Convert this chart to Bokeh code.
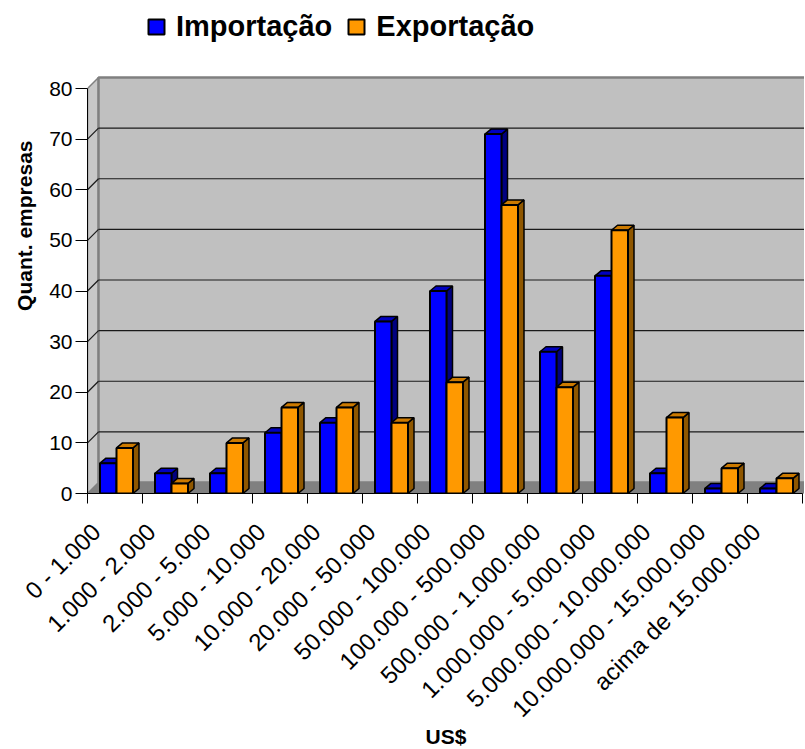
import math
from bokeh.plotting import figure
from bokeh.models import (Range1d, FixedTicker, CustomJSTickFormatter, Legend,
                          LegendItem, Title)
from bokeh.embed import file_html
from bokeh.resources import INLINE

# ---------------- data ----------------
categories = ["0 - 1.000", "1.000 - 2.000", "2.000 - 5.000", "5.000 - 10.000",
              "10.000 - 20.000", "20.000 - 50.000", "50.000 - 100.000",
              "100.000 - 500.000", "500.000 - 1.000.000", "1.000.000 - 5.000.000",
              "5.000.000 - 10.000.000", "10.000.000 - 15.000.000",
              "acima de 15.000.000"]
importacao = [6, 4, 4, 12, 14, 34, 40, 71, 28, 43, 4, 1, 1]
exportacao = [9, 2, 10, 17, 17, 14, 22, 57, 21, 52, 15, 5, 3]
y_ticks = [0, 10, 20, 30, 40, 50, 60, 70, 80]
series_names = ["Importação", "Exportação"]
y_title = "Quant. empresas"
x_title = "US$"

# ---------------- layout / style ----------------
FONT = "Liberation Sans"
TOP_PAD = 5                        # figure pixels above the frame
FRAME_W, FRAME_H = 717, 488        # frame reaches up to hold the legend
CAT_PX = 55.0                      # pixels per category
Y_PX = 405.0 / 80.0                # pixels per unit on y
X_END = FRAME_W / CAT_PX
Y_END = FRAME_H / Y_PX
WALL_PX = 11
DXW, DYW = WALL_PX / CAT_PX, WALL_PX / Y_PX
BAR_PX_DX, BAR_PX_DY = 6, 5
DXB, DYB = BAR_PX_DX / CAT_PX, BAR_PX_DY / Y_PX
BAR_OFF = 12.5 / 55.0
BAR_W = 0.30
LABEL_SHIFT = 0.16
Y_TITLE_OFFSET = 135
LEGEND_LOC = (59, 450)

front_cols = ["#0000FF", "#FF9900"]
top_cols = ["#0000C0", "#CC7A00"]
side_cols = ["#000080", "#8F5700"]

n = len(categories)
p = figure(frame_width=FRAME_W, frame_height=FRAME_H, output_backend="svg",
           toolbar_location=None, x_range=Range1d(0, X_END), y_range=Range1d(0, Y_END),
           min_border_left=87, min_border_right=0, min_border_top=TOP_PAD,
           min_border_bottom=255)
p.outline_line_color = None
p.xgrid.visible = False
p.ygrid.visible = False
p.background_fill_color = "white"

# walls
x_far = X_END + 1
p.patch([0, DXW, DXW, 0], [0, DYW, y_ticks[-1] + DYW, y_ticks[-1]],
        fill_color="#C8C8C8", line_color="#808080", line_width=1.5)
p.quad(left=DXW, right=x_far, bottom=DYW, top=y_ticks[-1] + DYW,
       fill_color="#C0C0C0", line_color="#808080", line_width=2.5)
p.patch([0, x_far, x_far + DXW, DXW], [0, 0, DYW, DYW],
        fill_color="#808080", line_color="#808080", line_width=1)
grid_vals = y_ticks[1:-1]
p.segment(x0=[DXW] * len(grid_vals), y0=[v + DYW for v in grid_vals],
          x1=[x_far] * len(grid_vals), y1=[v + DYW for v in grid_vals],
          line_color="#1a1a1a", line_width=1.2)
p.segment(x0=[0] * len(grid_vals), y0=grid_vals,
          x1=[DXW] * len(grid_vals), y1=[v + DYW for v in grid_vals],
          line_color="#1a1a1a", line_width=1.2)

# bars
fronts = []
for k, vals in enumerate([importacao, exportacao]):
    x0 = [i + BAR_OFF + k * BAR_W for i in range(n)]
    x1 = [a + BAR_W for a in x0]
    side_xs = [[b, b + DXB, b + DXB, b] for b in x1]
    side_ys = [[0, DYB, v + DYB, v] for v in vals]
    p.patches(side_xs, side_ys, fill_color=side_cols[k], line_color="black", line_width=1.5)
    top_xs = [[a, b, b + DXB, a + DXB] for a, b in zip(x0, x1)]
    top_ys = [[v, v, v + DYB, v + DYB] for v in vals]
    p.patches(top_xs, top_ys, fill_color=top_cols[k], line_color="black", line_width=1.5)
    r = p.quad(left=x0, right=x1, bottom=0, top=vals, fill_color=front_cols[k],
               line_color="black", line_width=2)
    fronts.append(r)

# axes
xa = p.xaxis[0]
xa.ticker = FixedTicker(ticks=[i + LABEL_SHIFT for i in range(n)],
                        minor_ticks=list(range(n + 1)))
xa.formatter = CustomJSTickFormatter(args=dict(labels=categories, shift=LABEL_SHIFT),
    code="const i = Math.round(tick - shift); return (i >= 0 && i < labels.length) ? labels[i] : '';")
xa.bounds = (0, n)
xa.major_tick_out = 0
xa.major_tick_in = 0
xa.minor_tick_out = 10
xa.minor_tick_in = 0
xa.minor_tick_line_color = "black"
xa.axis_line_color = "black"
xa.major_label_orientation = math.pi / 4
xa.major_label_standoff = 24
xa.major_label_text_font = FONT
xa.major_label_text_font_size = "24px"
xa.major_label_text_color = "black"
xa.axis_label = x_title
xa.axis_label_text_font = FONT
xa.axis_label_text_font_size = "21px"
xa.axis_label_text_font_style = "bold"
xa.axis_label_text_color = "black"
xa.axis_label_standoff = -10

ya = p.yaxis[0]
ya.ticker = FixedTicker(ticks=y_ticks)
ya.bounds = (y_ticks[0], y_ticks[-1])
ya.major_tick_out = 12
ya.major_tick_in = 0
ya.minor_tick_out = 0
ya.minor_tick_in = 0
ya.major_tick_line_color = "black"
ya.axis_line_color = "black"
ya.major_label_standoff = 3
ya.major_label_text_font = FONT
ya.major_label_text_font_size = "21px"
ya.major_label_text_color = "black"

p.add_layout(Title(text=y_title, align="right", offset=Y_TITLE_OFFSET,
                   text_font=FONT, text_font_size="21px", text_font_style="bold",
                   text_color="black", standoff=21), "left")

legend = Legend(items=[LegendItem(label=series_names[0], renderers=[fronts[0]]),
                       LegendItem(label=series_names[1], renderers=[fronts[1]])],
                orientation="horizontal", location=LEGEND_LOC,
                glyph_width=20, glyph_height=19, label_standoff=10, spacing=14,
                padding=0, margin=0, border_line_color=None,
                background_fill_alpha=0,
                label_text_font=FONT, label_text_font_size="29px",
                label_text_font_style="bold", label_text_color="black")
p.add_layout(legend)

open("out.html", "w").write(file_html(p, INLINE))
